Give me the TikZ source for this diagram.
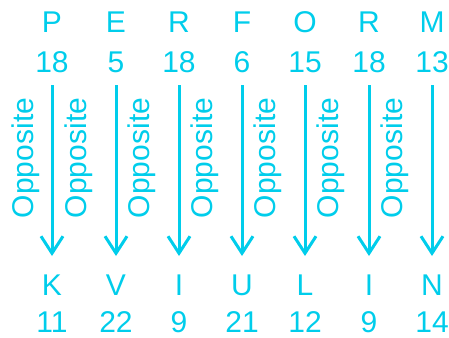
\documentclass[tikz,border=0pt]{standalone}
\usepackage{fontspec}
\setmainfont{Liberation Sans}
\usetikzlibrary{arrows.meta}
\definecolor{cy}{RGB}{0,205,235}
\begin{document}
\begin{tikzpicture}[x=1pt,y=-1pt,
  txt/.style={text=cy,font=\fontsize{30}{30}\selectfont,anchor=base,inner sep=0pt},
  lbl/.style={txt,rotate=90},
  arr/.style={draw=cy,line width=3pt,-{Straight Barb[length=17pt,width=22pt]}}]
\useasboundingbox (0,0) rectangle (449,337);
\foreach \i/\x/\a/\na/\b/\nb in {1/52/P/18/K/11,2/116/E/5/V/22,3/179/R/18/I/9,4/242/F/6/U/21,5/305/O/15/L/12,6/369/R/18/I/9,7/432/M/13/N/14}{
  \node[txt] (t\i) at (\x,33) {\a};
  \node[txt] (tn\i) at (\x,72) {\na};
  \node[txt] (b\i) at (\x,295) {\b};
  \node[txt] (bn\i) at (\x,332) {\nb};
  \coordinate (s\i) at (\x,85);
  \coordinate (e\i) at (\x,256);
  \draw[arr] (s\i) -- (e\i);
}
\foreach \i/\x in {0/33,1/86,2/149,3/212,4/275,5/338,6/402}{
  \node[lbl] (o\i) at (\x,158) {Opposite};
}
\end{tikzpicture}
\end{document}
